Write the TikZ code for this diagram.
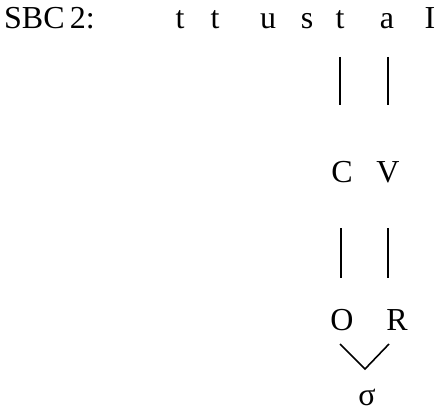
\documentclass[tikz,border=0pt]{standalone}
\usepackage{fontspec}
\setmainfont{Liberation Serif}
\usetikzlibrary{calc}
\begin{document}
\begin{tikzpicture}[x=1pt,y=-1pt,
  lbl/.style={inner sep=0pt,anchor=base,font=\fontsize{32}{38}\selectfont},
  assoc/.style={line width=1.6pt}]
\useasboundingbox (0,0) rectangle (444,412);
\node[lbl,anchor=base west] (sbc) at (4,29) {SBC\,2:};
\node[lbl] (t1) at (180,29) {t};
\node[lbl] (t2) at (215,29) {t};
\node[lbl] (u) at (268,29) {u};
\node[lbl] (s) at (307,29) {s};
\node[lbl] (t3) at (340,29) {t};
\node[lbl] (a) at (387,29) {a};
\node[lbl] (I) at (430,29) {I};
\node[lbl] (C) at (342,182) {C};
\node[lbl] (V) at (388,182) {V};
\node[lbl] (O) at (342,330) {O};
\node[lbl] (R) at (397,330) {R};
\node[lbl] (sig) at (367,405) {σ};
\draw[assoc] ($(t3.base)+(0,28)$) -- ($(t3.base)+(0,76)$);
\draw[assoc] ($(a.base)+(1,28)$) -- ($(a.base)+(1,76)$);
\draw[assoc] ($(C.base)+(-1,46)$) -- ($(C.base)+(-1,96)$);
\draw[assoc] ($(V.base)+(0,46)$) -- ($(V.base)+(0,96)$);
\coordinate (vtx) at ($(sig.base)+(-2,-36)$);
\draw[assoc] ($(O.base)+(-2,14)$) -- (vtx) -- ($(R.base)+(-8,14)$);
\end{tikzpicture}
\end{document}
